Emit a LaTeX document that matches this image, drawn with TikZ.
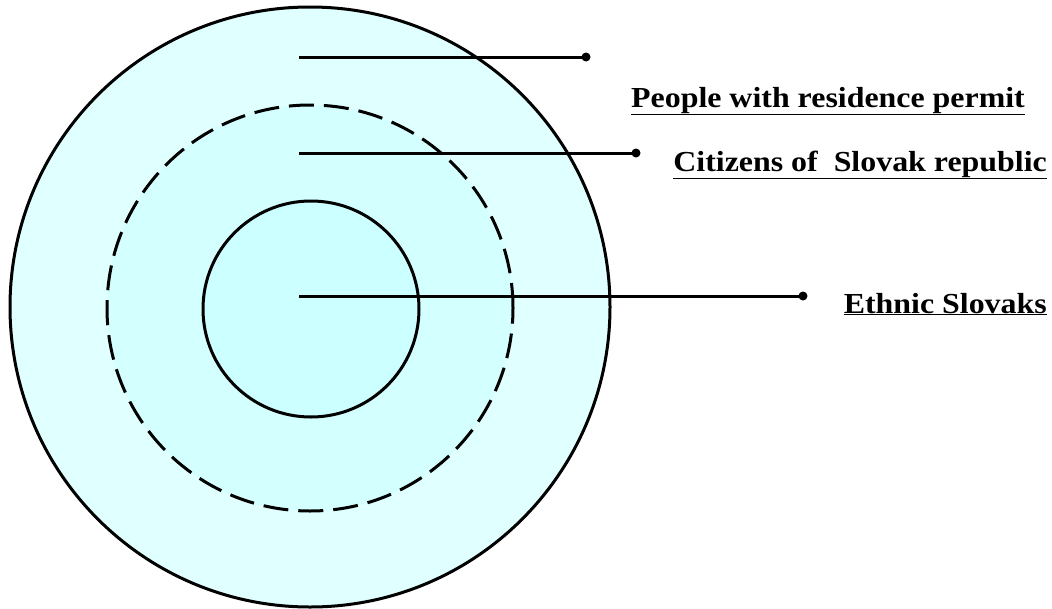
\documentclass[tikz,border=0pt]{standalone}
\usepackage{fontspec}
\setmainfont{Liberation Serif}[FakeStretch=1.1]
\begin{document}
\begin{tikzpicture}[x=1pt,y=-1pt,
  ring/.style={circle, draw=black, line width=3pt, inner sep=0pt, outer sep=0pt},
  conn/.style={draw=black, line width=3pt},
  dotnode/.style={circle, fill=black, inner sep=0pt, minimum size=9pt},
  lbl/.style={font=\fontsize{29}{32}\selectfont\bfseries, inner sep=0pt}]
\definecolor{outerfill}{RGB}{224,255,255}
\definecolor{midfill}{RGB}{212,255,255}
\definecolor{innerfill}{RGB}{204,255,255}
\useasboundingbox (0,0) rectangle (1052,608);
\node[ring, fill=outerfill, minimum size=600pt] (outer) at (310,307) {};
\node[ring, fill=midfill, dash pattern=on 25pt off 10pt, minimum size=406pt] (mid) at (310,308) {};
\node[ring, fill=innerfill, minimum size=216pt] (inner) at (311,309) {};
\coordinate (s1) at (299,57);
\coordinate (s2) at (299,153);
\coordinate (s3) at (299,296);
\node[dotnode] (d1) at (586,57) {};
\node[dotnode] (d2) at (636,153) {};
\node[dotnode] (d3) at (803,296) {};
\draw[conn] (s1) -- (d1.center);
\draw[conn] (s2) -- (d2.center);
\draw[conn] (s3) -- (d3.center);
\node[lbl, anchor=base east] (l1) at (1025,107) {\underline{People with residence permit}};
\node[lbl, anchor=base east] (l2) at (1047,171) {\underline{Citizens of\ \ Slovak republic}};
\node[lbl, anchor=base east] (l3) at (1047,313) {\underline{Ethnic Slovaks}};
\end{tikzpicture}
\end{document}
